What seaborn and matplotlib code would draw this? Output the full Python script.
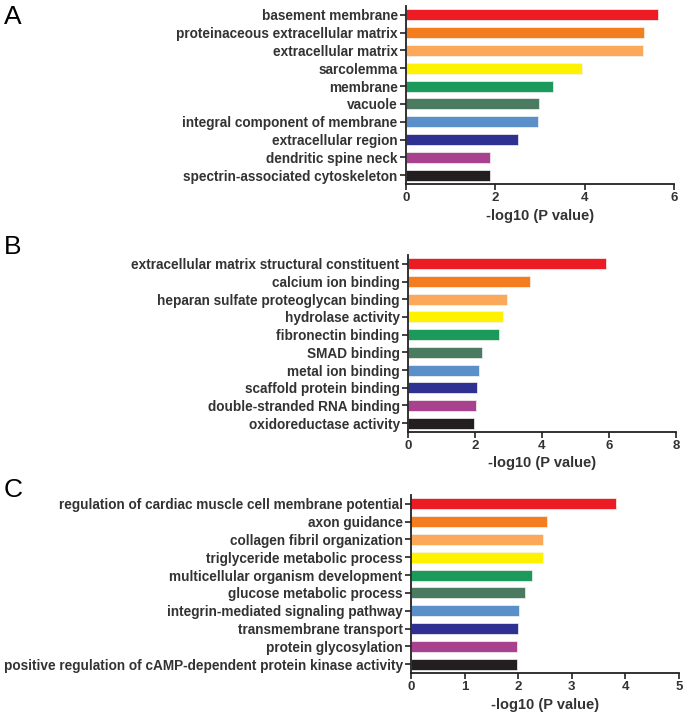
import pandas as pd
import matplotlib.pyplot as plt
import seaborn as sns

# GO terms, cellular component
terms_a = ["basement membrane", "proteinaceous extracellular matrix", "extracellular matrix",
           "sarcolemma", "membrane", "vacuole", "integral component of membrane",
           "extracellular region", "dendritic spine neck", "spectrin-associated cytoskeleton"]
vals_a = [5.65, 5.33, 5.30, 3.95, 3.28, 2.98, 2.95, 2.51, 1.89, 1.89]

# molecular function
terms_b = ["extracellular matrix structural constituent", "calcium ion binding",
           "heparan sulfate proteoglycan binding", "hydrolase activity", "fibronectin binding",
           "SMAD binding", "metal ion binding", "scaffold protein binding",
           "double-stranded RNA binding", "oxidoreductase activity"]
vals_b = [5.92, 3.65, 2.95, 2.85, 2.73, 2.20, 2.13, 2.06, 2.03, 1.96]

# biological process
terms_c = ["regulation of cardiac muscle cell membrane potential", "axon guidance",
           "collagen fibril organization", "triglyceride metabolic process",
           "multicellular organism development", "glucose metabolic process",
           "integrin-mediated signaling pathway", "transmembrane transport",
           "protein glycosylation", "positive regulation of cAMP-dependent protein kinase activity"]
vals_c = [3.82, 2.53, 2.47, 2.47, 2.25, 2.12, 2.02, 2.00, 1.98, 1.97]

colors = ["#ED1C24", "#F47D20", "#FBA85A", "#FFF200", "#1C9A5B",
          "#4A7A5F", "#5B8FC9", "#2E3192", "#A8418E", "#231F20"]

sns.set_style("ticks")
plt.rcParams["font.family"] = ["Liberation Sans", "DejaVu Sans"]
txt = "#333333"

fig = plt.figure(figsize=(6.85, 7.18), dpi=100)
W, H = 685, 718

panels = [
    ("A", terms_a, vals_a, 6, [0, 2, 4, 6], (406, 674, 6, 184), 5),
    ("B", terms_b, vals_b, 8, [0, 2, 4, 6, 8], (408, 676, 255, 432), 235),
    ("C", terms_c, vals_c, 5, [0, 1, 2, 3, 4, 5], (411, 679, 495, 673), 478),
]

for letter, terms, vals, xmax, ticks, (x0, x1, y0, y1), ly in panels:
    ax = fig.add_axes([x0 / W, 1 - y1 / H, (x1 - x0) / W, (y1 - y0) / H])
    df = pd.DataFrame({"term": terms, "val": vals})
    sns.barplot(data=df, x="val", y="term", hue="term", palette=colors,
                orient="h", width=0.62, legend=False, ax=ax, saturation=1,
                edgecolor="#f4f4f4", linewidth=0.5)
    ax.set_xlim(0, xmax)
    ax.set_ylim(9.5, -0.5)
    ax.set_xticks(ticks)
    ax.set_xticklabels([str(t) for t in ticks], fontsize=9.5, fontweight="bold", color=txt)
    ax.set_yticks(range(len(terms)))
    ax.set_yticklabels(terms, fontsize=9.8, fontweight="bold", color=txt)
    ax.set_ylabel("")
    ax.set_xlabel("-log10 (P value)", fontsize=10.5, fontweight="bold", color=txt, labelpad=3)
    sns.despine(ax=ax)
    for s in ["left", "bottom"]:
        ax.spines[s].set_linewidth(1.3)
        ax.spines[s].set_color("#222222")
    ax.tick_params(axis="both", length=4, width=1.2, color="#222222", pad=2)
    fig.text(4 / W, 1 - ly / H, letter, fontsize=19, color="black", va="top", ha="left")

plt.savefig("out.png", dpi=100)
